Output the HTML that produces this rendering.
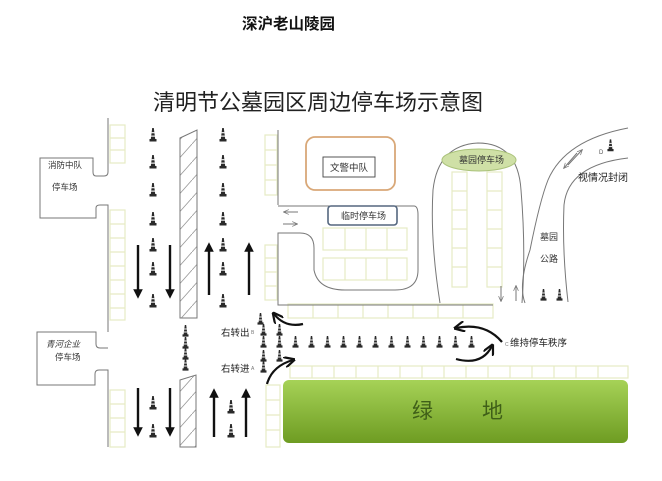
<!DOCTYPE html>
<html><head><meta charset="utf-8"><style>
html,body{margin:0;padding:0;background:#fff;}
svg{display:block;}
text{font-family:"Liberation Sans","Noto Sans CJK SC",sans-serif;}
</style></head><body>
<svg width="662" height="481" viewBox="0 0 662 481" xmlns="http://www.w3.org/2000/svg">
<defs>
<symbol id="cone" viewBox="0 0 8 14"><path d="M3.2,0 H4.8 L6.2,11 H7.5 V13.5 H0.5 V11 H1.8 Z" fill="#2a2a2a"/><rect x="2.3" y="4" width="3.4" height="1.3" fill="#ddd"/><rect x="2" y="7.5" width="4" height="1.3" fill="#ddd"/></symbol>
<marker id="ah" viewBox="0 0 10 10" refX="5" refY="5" markerWidth="4" markerHeight="4" orient="auto"><path d="M0,0 L10,5 L0,10 Z" fill="#111"/></marker>
<marker id="ah2" viewBox="0 0 10 10" refX="8" refY="5" markerWidth="5" markerHeight="5" orient="auto"><path d="M0,0 L10,5 L0,10" fill="none" stroke="#111" stroke-width="2"/></marker>
<marker id="ahs" viewBox="0 0 10 10" refX="8" refY="5" markerWidth="6" markerHeight="6" orient="auto"><path d="M0,1 L9,5 L0,9" fill="none" stroke="#777" stroke-width="1.2"/></marker>
<linearGradient id="g" x1="0" y1="0" x2="0" y2="1"><stop offset="0" stop-color="#a6d257"/><stop offset="1" stop-color="#6e9c22"/></linearGradient>
<pattern id="hatch" width="16" height="18" patternUnits="userSpaceOnUse"><path d="M0,18 L16,0" stroke="#999" stroke-width="0.8"/></pattern>
</defs>

<text x="242" y="29" font-size="15.5" font-weight="bold" fill="#111">深沪老山陵园</text>
<text x="153" y="110" font-size="22" fill="#222">清明节公墓园区周边停车场示意图</text>

<g fill="none" stroke="#e6ebc4" stroke-width="1.2">
<!-- left stripes -->
<rect x="110" y="125" width="15" height="38"/><path d="M110,138H125M110,150H125"/>
<rect x="110" y="210" width="15" height="110"/><path d="M110,224H125M110,238H125M110,252H125M110,266H125M110,280H125M110,294H125M110,308H125"/>
<rect x="110" y="390" width="15" height="57"/><path d="M110,404H125M110,418H125M110,432H125"/>
<!-- right-of-road stripes -->
<rect x="265" y="135" width="12" height="60"/><path d="M265,150H277M265,165H277M265,180H277"/>
<rect x="265" y="245" width="12" height="55"/><path d="M265,258H277M265,272H277M265,286H277"/>
<rect x="266" y="385" width="14" height="62"/><path d="M266,400H280M266,415H280M266,430H280"/>
<!-- upper row -->
<rect x="288" y="304" width="205" height="14"/><path d="M313,304V318M338,304V318M363,304V318M388,304V318M413,304V318M438,304V318M463,304V318"/>
<!-- lower row -->
<rect x="290" y="366" width="338" height="12"/><path d="M312,366V378M334,366V378M356,366V378M378,366V378M400,366V378M422,366V378M444,366V378M466,366V378M488,366V378M510,366V378M532,366V378M554,366V378M576,366V378M598,366V378"/>
<!-- temp lot grid -->
<rect x="323" y="228" width="84" height="22"/><path d="M345,228V250M366,228V250M387,228V250"/>
<rect x="323" y="258" width="84" height="22"/><path d="M345,258V280M366,258V280M387,258V280"/>
<!-- cemetery columns -->
<rect x="452" y="172" width="15" height="115"/><path d="M452,191H467M452,210H467M452,229H467M452,248H467M452,267H467"/>
<rect x="487" y="172" width="15" height="115"/><path d="M487,191H502M487,210H502M487,229H502M487,248H502M487,267H502"/>
</g>

<g fill="none" stroke="#777" stroke-width="1">
<!-- left road edge & buildings -->
<path d="M108,118V172Q108,176 104,176H96Q93,176 93,172V158H40V218H96V208Q96,205 100,205H108V332"/>
<path d="M108,348H100Q96,348 96,344V332H37V385H95V374Q95,370 99,370H108V447"/>
<!-- medians -->
<path d="M180,138L197,130V318L180,318Z" fill="url(#hatch)"/>
<path d="M180,380L196,375V447H180Z" fill="url(#hatch)"/>
<!-- right block -->
<path d="M278,130V205"/>
<path d="M278,206H414Q418,206 418,215V270Q418,290 395,290H345Q318,290 314,270V248Q314,233 300,233H278V305H493"/>
<!-- cemetery loop -->
<path d="M440,303Q430,240 433,190Q438,145 478,143Q518,143 521,190Q526,250 522,303"/>
<!-- cemetery road -->
<path d="M525,303Q518,285 530,250Q540,200 548,180Q565,140 628,128"/>
<path d="M568,302Q562,250 564,205Q568,165 628,158"/>
</g>

<!-- buildings -->
<rect x="306" y="137" width="89" height="53" rx="9" fill="none" stroke="#d9a878" stroke-width="1.8"/>
<rect x="323" y="157" width="52" height="20" fill="#fff" stroke="#444" stroke-width="0.9"/>
<text x="330" y="171" font-size="9.5" fill="#333">文警中队</text>
<rect x="328" y="206" width="69" height="19" rx="3" fill="#fff" stroke="#55677f" stroke-width="1.6"/>
<text x="341" y="219" font-size="9" fill="#333">临时停车场</text>
<ellipse cx="479" cy="160" rx="37" ry="11" fill="#cfe0a6" stroke="#aac27a"/>
<text x="459" y="163" font-size="9" fill="#333">墓园停车场</text>

<text x="48" y="168" font-size="8.5" fill="#333">消防中队</text>
<text x="52" y="190" font-size="8.5" fill="#333">停车场</text>
<text x="46" y="347" font-size="8.5" fill="#333" font-style="italic">青河企业</text>
<text x="55" y="360" font-size="8.5" fill="#333">停车场</text>

<!-- small arrows -->
<path d="M298,212H284" stroke="#777" fill="none" marker-end="url(#ahs)"/>
<path d="M283,224H297" stroke="#777" fill="none" marker-end="url(#ahs)"/>
<path d="M501,286V301" stroke="#777" fill="none" marker-end="url(#ahs)"/>
<path d="M516,301V286" stroke="#777" fill="none" marker-end="url(#ahs)"/>
<path d="M568,165L582,150" stroke="#777" fill="none" marker-end="url(#ahs)"/>
<path d="M577,153L564,168" stroke="#777" fill="none" marker-end="url(#ahs)"/>

<text x="540" y="240" font-size="9" fill="#333">墓园</text>
<text x="540" y="262" font-size="9" fill="#333">公路</text>
<text x="578" y="181" font-size="10" fill="#222">视情况封闭</text>
<text x="599" y="154" font-size="6" fill="#555">D</text>

<!-- big lane arrows -->
<g stroke="#111" stroke-width="2.4" fill="none" marker-end="url(#ah)">
<path d="M138,245V294"/><path d="M170,245V294"/>
<path d="M209,295V247"/><path d="M249,295V247"/>
<path d="M138,388V432"/><path d="M170,388V432"/>
<path d="M214,437V393"/><path d="M246,437V393"/>
</g>

<!-- curved arrows -->
<g stroke="#111" stroke-width="2.2" fill="none" marker-end="url(#ah2)">
<path d="M303,324Q285,328 274,314"/>
<path d="M502,342Q485,322 456,328"/>
<path d="M456,359Q482,366 492,346"/>
<path d="M267,384Q272,366 293,360"/>
</g>

<!-- cones -->
<g>
<use href="#cone" x="149" y="128" width="8" height="14"/><use href="#cone" x="149" y="155" width="8" height="14"/><use href="#cone" x="149" y="183" width="8" height="14"/><use href="#cone" x="149" y="212" width="8" height="14"/><use href="#cone" x="149" y="238" width="8" height="14"/><use href="#cone" x="149" y="262" width="8" height="14"/><use href="#cone" x="149" y="294" width="8" height="14"/>
<use href="#cone" x="219" y="128" width="8" height="14"/><use href="#cone" x="219" y="155" width="8" height="14"/><use href="#cone" x="219" y="183" width="8" height="14"/><use href="#cone" x="219" y="212" width="8" height="14"/><use href="#cone" x="219" y="238" width="8" height="14"/><use href="#cone" x="219" y="262" width="8" height="14"/><use href="#cone" x="219" y="294" width="8" height="14"/>
<use href="#cone" x="149" y="396" width="8" height="14"/><use href="#cone" x="149" y="424" width="8" height="14"/>
<use href="#cone" x="227" y="400" width="8" height="14"/><use href="#cone" x="227" y="424" width="8" height="14"/>
<use href="#cone" x="182" y="325" width="7" height="12"/><use href="#cone" x="182" y="337" width="7" height="12"/><use href="#cone" x="182" y="348" width="7" height="12"/><use href="#cone" x="182" y="359" width="7" height="12"/>
<use href="#cone" x="257" y="313" width="7" height="12"/>
<use href="#cone" x="260" y="324" width="7" height="12"/><use href="#cone" x="276" y="324" width="7" height="12"/>
<use href="#cone" x="260" y="350" width="7" height="12"/><use href="#cone" x="276" y="350" width="7" height="12"/>
<use href="#cone" x="260" y="361" width="7" height="12"/>
<use href="#cone" x="260" y="336" width="7" height="12"/><use href="#cone" x="276" y="336" width="7" height="12"/><use href="#cone" x="292" y="336" width="7" height="12"/><use href="#cone" x="308" y="336" width="7" height="12"/><use href="#cone" x="324" y="336" width="7" height="12"/><use href="#cone" x="340" y="336" width="7" height="12"/><use href="#cone" x="356" y="336" width="7" height="12"/><use href="#cone" x="372" y="336" width="7" height="12"/><use href="#cone" x="388" y="336" width="7" height="12"/><use href="#cone" x="404" y="336" width="7" height="12"/><use href="#cone" x="420" y="336" width="7" height="12"/><use href="#cone" x="436" y="336" width="7" height="12"/><use href="#cone" x="452" y="336" width="7" height="12"/><use href="#cone" x="468" y="336" width="7" height="12"/>
<use href="#cone" x="540" y="289" width="7" height="12"/><use href="#cone" x="556" y="289" width="7" height="12"/>
<use href="#cone" x="607" y="139" width="7" height="13"/>
</g>

<text x="221" y="336" font-size="9.5" fill="#222">右转出</text><text x="251" y="334" font-size="5" fill="#777">B</text>
<text x="221" y="372" font-size="9.5" fill="#222">右转进</text><text x="251" y="370" font-size="5" fill="#777">A</text>
<text x="505" y="346" font-size="5" fill="#777">C</text>
<text x="510" y="346" font-size="9.5" fill="#222">维持停车秩序</text>

<!-- green area -->
<rect x="283" y="380" width="345" height="63" rx="6" fill="url(#g)"/>
<text x="412" y="418" font-size="21" fill="#3f5f18">绿</text>
<text x="482" y="418" font-size="21" fill="#3f5f18">地</text>
</svg>
</body></html>
